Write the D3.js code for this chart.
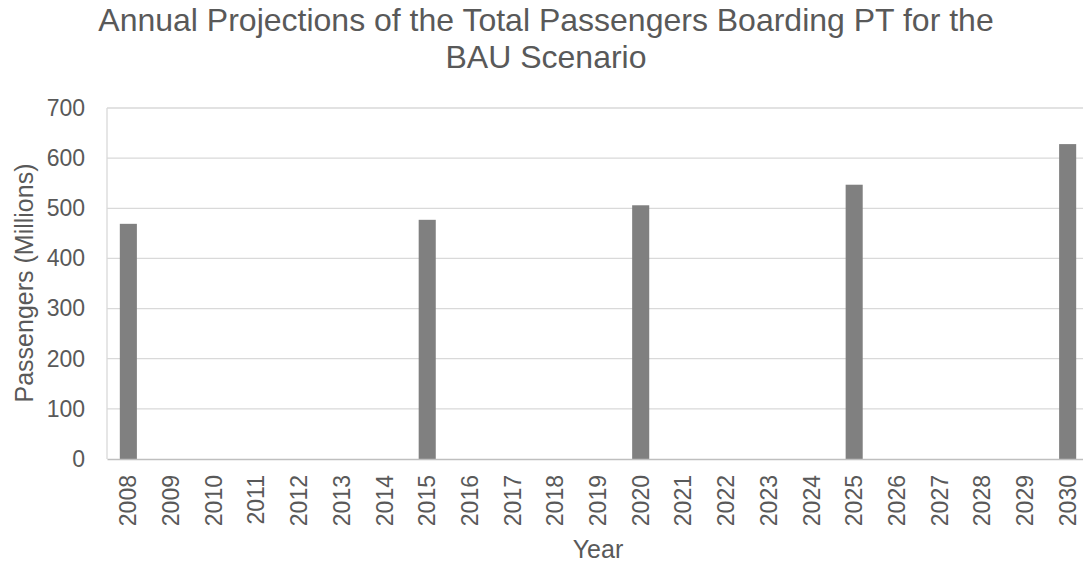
<!DOCTYPE html>
<html><head><meta charset="utf-8">
<script src="https://cdn.jsdelivr.net/npm/d3@7"></script>
<style>body{margin:0;background:#fff}svg{display:block}</style>
</head><body>
<svg id="c" width="1083" height="565"></svg>
<script>
const years = ["2008","2009","2010","2011","2012","2013","2014","2015","2016","2017","2018","2019","2020","2021","2022","2023","2024","2025","2026","2027","2028","2029","2030"];
const passengers = [469,0,0,0,0,0,0,477,0,0,0,0,506,0,0,0,0,547,0,0,0,0,628];
const yTicks = [0,100,200,300,400,500,600,700];
const titleLines = ["Annual Projections of the Total Passengers Boarding PT for the","BAU Scenario"];

const svg = d3.select("#c");
const font = "Liberation Sans, Arial, sans-serif";
const m = {left:107, right:1089, top:108, bottom:459};
const x = d3.scaleBand().domain(years).range([m.left,m.right]).paddingInner(0.6).paddingOuter(0.3);
const y = d3.scaleLinear().domain([0,700]).range([m.bottom,m.top]);

// gridlines
svg.append("g").selectAll("line").data(yTicks.filter(d=>d>0)).join("line")
  .attr("x1",m.left).attr("x2",m.right).attr("y1",d=>y(d)).attr("y2",d=>y(d))
  .attr("stroke","#d9d9d9").attr("stroke-width",1.3);
svg.append("line").attr("x1",m.left).attr("x2",m.left).attr("y1",m.top).attr("y2",m.bottom)
  .attr("stroke","#d9d9d9").attr("stroke-width",1.3);

// bars
svg.append("g").selectAll("rect").data(years).join("rect")
  .attr("x",d=>x(d)).attr("width",x.bandwidth())
  .attr("y",(d,i)=>y(passengers[i])).attr("height",(d,i)=>y(0)-y(passengers[i]))
  .attr("fill","#808080");

// x axis
const xa = svg.append("g").attr("transform",`translate(0,${m.bottom})`)
  .call(d3.axisBottom(x).tickSize(0).tickPadding(0));
xa.select(".domain").attr("stroke","#bfbfbf").attr("stroke-width",1.3);
xa.selectAll("text").attr("transform","rotate(-90)").attr("text-anchor","end")
  .attr("x",-16).attr("y",0).attr("dy","0.35em")
  .attr("font-family",font).attr("font-size",23).attr("fill","#595959");

// y axis
const ya = svg.append("g").attr("transform",`translate(${m.left},0)`)
  .call(d3.axisLeft(y).tickValues(yTicks).tickSize(0).tickPadding(22));
ya.select(".domain").remove();
ya.selectAll("text").attr("font-family",font).attr("font-size",23).attr("fill","#595959");

// titles
svg.append("g").selectAll("text").data(titleLines).join("text")
  .attr("x",546).attr("y",(d,i)=>31+i*37).attr("text-anchor","middle")
  .attr("font-family",font).attr("font-size",32).attr("fill","#595959").text(d=>d);
svg.append("text").attr("x",598).attr("y",558).attr("text-anchor","middle")
  .attr("font-family",font).attr("font-size",25).attr("fill","#595959").text("Year");
svg.append("text").attr("transform","translate(33,283) rotate(-90)").attr("text-anchor","middle")
  .attr("font-family",font).attr("font-size",25).attr("fill","#595959").text("Passengers (Millions)");
</script>
</body></html>
